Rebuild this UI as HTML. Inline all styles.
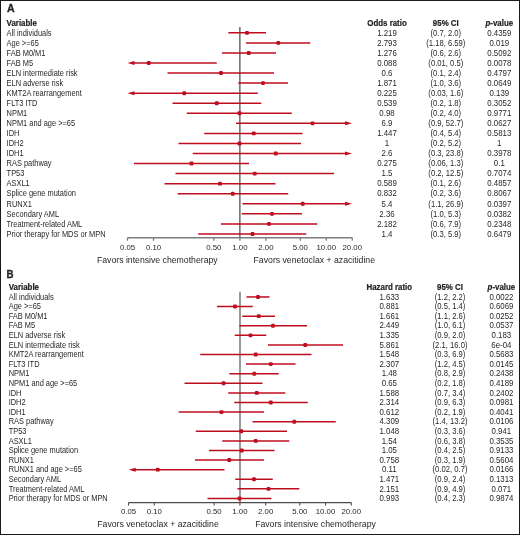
<!DOCTYPE html>
<html><head><meta charset="utf-8"><style>
html,body{margin:0;padding:0;background:#fff;}svg{display:block;will-change:transform;}
text{font-family:"Liberation Sans",sans-serif;font-size:8.4px;fill:#231f20;}
.m{text-anchor:middle;}.v{font-size:8.2px;}.h{font-weight:bold;font-size:8.6px;stroke:#231f20;stroke-width:0.22px;}
.pl{font-weight:bold;font-size:10.6px;stroke:#231f20;stroke-width:0.3px;}.t{font-size:7.8px;}.f{font-size:8.7px;}
.ci{stroke:#bf0c1f;stroke-width:1.5;}
</style></head><body>
<svg width="520" height="535" viewBox="0 0 520 535">
<rect x="0.5" y="0.5" width="519" height="534" fill="#fff" stroke="#1a1a1a" stroke-width="1"/>
<text transform="translate(7.1 12.1) scale(1.0 1)" class="pl">A</text>
<text transform="translate(6.6 25.7) scale(0.92 1)" class="h">Variable</text>
<text transform="translate(387 25.7) scale(0.92 1)" class="h m">Odds ratio</text>
<text transform="translate(445.8 25.7) scale(0.92 1)" class="h m">95% CI</text>
<text transform="translate(499.3 25.7) scale(0.92 1)" class="h m"><tspan font-style="italic">p</tspan>-value</text>
<line x1="239.85" y1="27" x2="239.85" y2="237.75" stroke="#747474" stroke-width="1.6"/>
<text transform="translate(6.6 35.60) scale(0.885 1)">All individuals</text>
<text transform="translate(387 35.60) scale(0.96 1)" class="m v">1.219</text>
<text transform="translate(445.8 35.60) scale(0.935 1)" class="m v">(0.7, 2.0)</text>
<text transform="translate(499.3 35.60) scale(0.96 1)" class="m v">0.4359</text>
<line x1="228.3" y1="32.85" x2="266" y2="32.85" class="ci"/>
<rect x="245.05" y="30.90" width="3.9" height="3.9" rx="1.2" fill="#bf0c1f"/>
<text transform="translate(6.6 45.66) scale(0.885 1)">Age &gt;=65</text>
<text transform="translate(387 45.66) scale(0.96 1)" class="m v">2.793</text>
<text transform="translate(445.8 45.66) scale(0.935 1)" class="m v">(1.18, 6.59)</text>
<text transform="translate(499.3 45.66) scale(0.96 1)" class="m v">0.019</text>
<line x1="246" y1="42.91" x2="310.25" y2="42.91" class="ci"/>
<rect x="276.30" y="40.95" width="3.9" height="3.9" rx="1.2" fill="#bf0c1f"/>
<text transform="translate(6.6 55.71) scale(0.885 1)">FAB M0/M1</text>
<text transform="translate(387 55.71) scale(0.96 1)" class="m v">1.276</text>
<text transform="translate(445.8 55.71) scale(0.935 1)" class="m v">(0.6, 2.6)</text>
<text transform="translate(499.3 55.71) scale(0.96 1)" class="m v">0.5092</text>
<line x1="222" y1="52.96" x2="276" y2="52.96" class="ci"/>
<rect x="246.80" y="51.01" width="3.9" height="3.9" rx="1.2" fill="#bf0c1f"/>
<text transform="translate(6.6 65.77) scale(0.885 1)">FAB M5</text>
<text transform="translate(387 65.77) scale(0.96 1)" class="m v">0.088</text>
<text transform="translate(445.8 65.77) scale(0.935 1)" class="m v">(0.01, 0.5)</text>
<text transform="translate(499.3 65.77) scale(0.96 1)" class="m v">0.0078</text>
<line x1="133.5" y1="63.02" x2="216.75" y2="63.02" class="ci"/>
<path d="M127.5 63.02 L134.5 61.02 L134.5 65.02 Z" fill="#bf0c1f"/>
<rect x="146.80" y="61.06" width="3.9" height="3.9" rx="1.2" fill="#bf0c1f"/>
<text transform="translate(6.6 75.82) scale(0.885 1)">ELN intermediate risk</text>
<text transform="translate(387 75.82) scale(0.96 1)" class="m v">0.6</text>
<text transform="translate(445.8 75.82) scale(0.935 1)" class="m v">(0.1, 2.4)</text>
<text transform="translate(499.3 75.82) scale(0.96 1)" class="m v">0.4797</text>
<line x1="167.5" y1="73.07" x2="274" y2="73.07" class="ci"/>
<rect x="219.05" y="71.12" width="3.9" height="3.9" rx="1.2" fill="#bf0c1f"/>
<text transform="translate(6.6 85.88) scale(0.885 1)">ELN adverse risk</text>
<text transform="translate(387 85.88) scale(0.96 1)" class="m v">1.871</text>
<text transform="translate(445.8 85.88) scale(0.935 1)" class="m v">(1.0, 3.6)</text>
<text transform="translate(499.3 85.88) scale(0.96 1)" class="m v">0.0649</text>
<line x1="238.25" y1="83.12" x2="288" y2="83.12" class="ci"/>
<rect x="261.05" y="81.17" width="3.9" height="3.9" rx="1.2" fill="#bf0c1f"/>
<text transform="translate(6.6 95.93) scale(0.885 1)">KMT2A rearrangement</text>
<text transform="translate(387 95.93) scale(0.96 1)" class="m v">0.225</text>
<text transform="translate(445.8 95.93) scale(0.935 1)" class="m v">(0.03, 1.6)</text>
<text transform="translate(499.3 95.93) scale(0.96 1)" class="m v">0.139</text>
<line x1="133.5" y1="93.18" x2="257.75" y2="93.18" class="ci"/>
<path d="M127.5 93.18 L134.5 91.18 L134.5 95.18 Z" fill="#bf0c1f"/>
<rect x="182.30" y="91.23" width="3.9" height="3.9" rx="1.2" fill="#bf0c1f"/>
<text transform="translate(6.6 105.98) scale(0.885 1)">FLT3 ITD</text>
<text transform="translate(387 105.98) scale(0.96 1)" class="m v">0.539</text>
<text transform="translate(445.8 105.98) scale(0.935 1)" class="m v">(0.2, 1.8)</text>
<text transform="translate(499.3 105.98) scale(0.96 1)" class="m v">0.3052</text>
<line x1="172.5" y1="103.23" x2="261.25" y2="103.23" class="ci"/>
<rect x="214.80" y="101.28" width="3.9" height="3.9" rx="1.2" fill="#bf0c1f"/>
<text transform="translate(6.6 116.04) scale(0.885 1)">NPM1</text>
<text transform="translate(387 116.04) scale(0.96 1)" class="m v">0.98</text>
<text transform="translate(445.8 116.04) scale(0.935 1)" class="m v">(0.2, 4.0)</text>
<text transform="translate(499.3 116.04) scale(0.96 1)" class="m v">0.9771</text>
<line x1="186.75" y1="113.29" x2="291.75" y2="113.29" class="ci"/>
<rect x="237.55" y="111.34" width="3.9" height="3.9" rx="1.2" fill="#bf0c1f"/>
<text transform="translate(6.6 126.09) scale(0.885 1)">NPM1 and age &gt;=65</text>
<text transform="translate(387 126.09) scale(0.96 1)" class="m v">6.9</text>
<text transform="translate(445.8 126.09) scale(0.935 1)" class="m v">(0.9, 52.7)</text>
<text transform="translate(499.3 126.09) scale(0.96 1)" class="m v">0.0627</text>
<line x1="236" y1="123.34" x2="346.0" y2="123.34" class="ci"/>
<path d="M352 123.34 L345.0 121.34 L345.0 125.34 Z" fill="#bf0c1f"/>
<rect x="310.55" y="121.39" width="3.9" height="3.9" rx="1.2" fill="#bf0c1f"/>
<text transform="translate(6.6 136.15) scale(0.885 1)">IDH</text>
<text transform="translate(387 136.15) scale(0.96 1)" class="m v">1.447</text>
<text transform="translate(445.8 136.15) scale(0.935 1)" class="m v">(0.4, 5.4)</text>
<text transform="translate(499.3 136.15) scale(0.96 1)" class="m v">0.5813</text>
<line x1="204.25" y1="133.40" x2="302.5" y2="133.40" class="ci"/>
<rect x="251.80" y="131.45" width="3.9" height="3.9" rx="1.2" fill="#bf0c1f"/>
<text transform="translate(6.6 146.20) scale(0.885 1)">IDH2</text>
<text transform="translate(387 146.20) scale(0.96 1)" class="m v">1</text>
<text transform="translate(445.8 146.20) scale(0.935 1)" class="m v">(0.2, 5.2)</text>
<text transform="translate(499.3 146.20) scale(0.96 1)" class="m v">1</text>
<line x1="178.5" y1="143.45" x2="301" y2="143.45" class="ci"/>
<rect x="237.55" y="141.50" width="3.9" height="3.9" rx="1.2" fill="#bf0c1f"/>
<text transform="translate(6.6 156.26) scale(0.885 1)">IDH1</text>
<text transform="translate(387 156.26) scale(0.96 1)" class="m v">2.6</text>
<text transform="translate(445.8 156.26) scale(0.935 1)" class="m v">(0.3, 23.8)</text>
<text transform="translate(499.3 156.26) scale(0.96 1)" class="m v">0.3978</text>
<line x1="192.75" y1="153.51" x2="346.0" y2="153.51" class="ci"/>
<path d="M352 153.51 L345.0 151.51 L345.0 155.51 Z" fill="#bf0c1f"/>
<rect x="273.80" y="151.56" width="3.9" height="3.9" rx="1.2" fill="#bf0c1f"/>
<text transform="translate(6.6 166.31) scale(0.885 1)">RAS pathway</text>
<text transform="translate(387 166.31) scale(0.96 1)" class="m v">0.275</text>
<text transform="translate(445.8 166.31) scale(0.935 1)" class="m v">(0.06, 1.3)</text>
<text transform="translate(499.3 166.31) scale(0.96 1)" class="m v">0.1</text>
<line x1="134" y1="163.56" x2="249" y2="163.56" class="ci"/>
<rect x="189.55" y="161.62" width="3.9" height="3.9" rx="1.2" fill="#bf0c1f"/>
<text transform="translate(6.6 176.37) scale(0.885 1)">TP53</text>
<text transform="translate(387 176.37) scale(0.96 1)" class="m v">1.5</text>
<text transform="translate(445.8 176.37) scale(0.935 1)" class="m v">(0.2, 12.5)</text>
<text transform="translate(499.3 176.37) scale(0.96 1)" class="m v">0.7074</text>
<line x1="175.5" y1="173.62" x2="334" y2="173.62" class="ci"/>
<rect x="252.80" y="171.67" width="3.9" height="3.9" rx="1.2" fill="#bf0c1f"/>
<text transform="translate(6.6 186.42) scale(0.885 1)">ASXL1</text>
<text transform="translate(387 186.42) scale(0.96 1)" class="m v">0.589</text>
<text transform="translate(445.8 186.42) scale(0.935 1)" class="m v">(0.1, 2.6)</text>
<text transform="translate(499.3 186.42) scale(0.96 1)" class="m v">0.4857</text>
<line x1="164.5" y1="183.67" x2="275.5" y2="183.67" class="ci"/>
<rect x="218.05" y="181.72" width="3.9" height="3.9" rx="1.2" fill="#bf0c1f"/>
<text transform="translate(6.6 196.48) scale(0.885 1)">Splice gene mutation</text>
<text transform="translate(387 196.48) scale(0.96 1)" class="m v">0.832</text>
<text transform="translate(445.8 196.48) scale(0.935 1)" class="m v">(0.2, 3.6)</text>
<text transform="translate(499.3 196.48) scale(0.96 1)" class="m v">0.8067</text>
<line x1="177.75" y1="193.73" x2="288.25" y2="193.73" class="ci"/>
<rect x="230.80" y="191.78" width="3.9" height="3.9" rx="1.2" fill="#bf0c1f"/>
<text transform="translate(6.6 206.53) scale(0.885 1)">RUNX1</text>
<text transform="translate(387 206.53) scale(0.96 1)" class="m v">5.4</text>
<text transform="translate(445.8 206.53) scale(0.935 1)" class="m v">(1.1, 26.9)</text>
<text transform="translate(499.3 206.53) scale(0.96 1)" class="m v">0.0397</text>
<line x1="242.5" y1="203.78" x2="346.0" y2="203.78" class="ci"/>
<path d="M352 203.78 L345.0 201.78 L345.0 205.78 Z" fill="#bf0c1f"/>
<rect x="300.80" y="201.84" width="3.9" height="3.9" rx="1.2" fill="#bf0c1f"/>
<text transform="translate(6.6 216.59) scale(0.885 1)">Secondary AML</text>
<text transform="translate(387 216.59) scale(0.96 1)" class="m v">2.36</text>
<text transform="translate(445.8 216.59) scale(0.935 1)" class="m v">(1.0, 5.3)</text>
<text transform="translate(499.3 216.59) scale(0.96 1)" class="m v">0.0382</text>
<line x1="241.75" y1="213.84" x2="302" y2="213.84" class="ci"/>
<rect x="270.05" y="211.89" width="3.9" height="3.9" rx="1.2" fill="#bf0c1f"/>
<text transform="translate(6.6 226.64) scale(0.885 1)">Treatment-related AML</text>
<text transform="translate(387 226.64) scale(0.96 1)" class="m v">2.182</text>
<text transform="translate(445.8 226.64) scale(0.935 1)" class="m v">(0.6, 7.9)</text>
<text transform="translate(499.3 226.64) scale(0.96 1)" class="m v">0.2348</text>
<line x1="221" y1="223.89" x2="317.25" y2="223.89" class="ci"/>
<rect x="267.05" y="221.94" width="3.9" height="3.9" rx="1.2" fill="#bf0c1f"/>
<text transform="translate(6.6 236.70) scale(0.885 1)">Prior therapy for MDS or MPN</text>
<text transform="translate(387 236.70) scale(0.96 1)" class="m v">1.4</text>
<text transform="translate(445.8 236.70) scale(0.935 1)" class="m v">(0.3, 5.9)</text>
<text transform="translate(499.3 236.70) scale(0.96 1)" class="m v">0.6479</text>
<line x1="198.25" y1="233.95" x2="306.25" y2="233.95" class="ci"/>
<rect x="250.55" y="232.00" width="3.9" height="3.9" rx="1.2" fill="#bf0c1f"/>
<line x1="127.5" y1="237.75" x2="352.3" y2="237.75" stroke="#7e7e7e" stroke-width="1.6"/>
<line x1="127.50" y1="237.75" x2="127.50" y2="240.75" stroke="#7e7e7e" stroke-width="1.3"/>
<text x="127.50" y="249.8" class="t m">0.05</text>
<line x1="153.51" y1="237.75" x2="153.51" y2="240.75" stroke="#7e7e7e" stroke-width="1.3"/>
<text x="153.51" y="249.8" class="t m">0.10</text>
<line x1="213.89" y1="237.75" x2="213.89" y2="240.75" stroke="#7e7e7e" stroke-width="1.3"/>
<text x="213.89" y="249.8" class="t m">0.50</text>
<line x1="239.90" y1="237.75" x2="239.90" y2="240.75" stroke="#7e7e7e" stroke-width="1.3"/>
<text x="239.90" y="249.8" class="t m">1.00</text>
<line x1="265.91" y1="237.75" x2="265.91" y2="240.75" stroke="#7e7e7e" stroke-width="1.3"/>
<text x="265.91" y="249.8" class="t m">2.00</text>
<line x1="300.29" y1="237.75" x2="300.29" y2="240.75" stroke="#7e7e7e" stroke-width="1.3"/>
<text x="300.29" y="249.8" class="t m">5.00</text>
<line x1="326.29" y1="237.75" x2="326.29" y2="240.75" stroke="#7e7e7e" stroke-width="1.3"/>
<text x="326.29" y="249.8" class="t m">10.00</text>
<line x1="352.30" y1="237.75" x2="352.30" y2="240.75" stroke="#7e7e7e" stroke-width="1.3"/>
<text x="352.30" y="249.8" class="t m">20.00</text>
<text x="157.3" y="262.5" class="f m">Favors intensive chemotherapy</text>
<text x="314.3" y="262.5" class="f m">Favors venetoclax + azacitidine</text>
<text transform="translate(6.5 278.0) scale(0.92 1)" class="pl">B</text>
<text transform="translate(8.7 289.7) scale(0.92 1)" class="h">Variable</text>
<text transform="translate(389.3 289.7) scale(0.92 1)" class="h m">Hazard ratio</text>
<text transform="translate(450 289.7) scale(0.92 1)" class="h m">95% CI</text>
<text transform="translate(501.4 289.7) scale(0.92 1)" class="h m"><tspan font-style="italic">p</tspan>-value</text>
<line x1="240.0" y1="291.8" x2="240.0" y2="502.6" stroke="#888888" stroke-width="1.7"/>
<text transform="translate(8.7 299.60) scale(0.885 1)">All individuals</text>
<text transform="translate(389.3 299.60) scale(0.96 1)" class="m v">1.633</text>
<text transform="translate(450 299.60) scale(0.935 1)" class="m v">(1.2, 2.2)</text>
<text transform="translate(501.4 299.60) scale(0.96 1)" class="m v">0.0022</text>
<line x1="246.5" y1="296.95" x2="269.5" y2="296.95" class="ci"/>
<rect x="256.05" y="295.00" width="3.9" height="3.9" rx="1.2" fill="#bf0c1f"/>
<text transform="translate(8.7 309.20) scale(0.885 1)">Age &gt;=65</text>
<text transform="translate(389.3 309.20) scale(0.96 1)" class="m v">0.881</text>
<text transform="translate(450 309.20) scale(0.935 1)" class="m v">(0.5, 1.4)</text>
<text transform="translate(501.4 309.20) scale(0.96 1)" class="m v">0.6069</text>
<line x1="217" y1="306.55" x2="252.75" y2="306.55" class="ci"/>
<rect x="233.05" y="304.60" width="3.9" height="3.9" rx="1.2" fill="#bf0c1f"/>
<text transform="translate(8.7 318.79) scale(0.885 1)">FAB M0/M1</text>
<text transform="translate(389.3 318.79) scale(0.96 1)" class="m v">1.661</text>
<text transform="translate(450 318.79) scale(0.935 1)" class="m v">(1.1, 2.6)</text>
<text transform="translate(501.4 318.79) scale(0.96 1)" class="m v">0.0252</text>
<line x1="242.25" y1="316.14" x2="275" y2="316.14" class="ci"/>
<rect x="256.80" y="314.19" width="3.9" height="3.9" rx="1.2" fill="#bf0c1f"/>
<text transform="translate(8.7 328.39) scale(0.885 1)">FAB M5</text>
<text transform="translate(389.3 328.39) scale(0.96 1)" class="m v">2.449</text>
<text transform="translate(450 328.39) scale(0.935 1)" class="m v">(1.0, 6.1)</text>
<text transform="translate(501.4 328.39) scale(0.96 1)" class="m v">0.0537</text>
<line x1="239.5" y1="325.74" x2="307" y2="325.74" class="ci"/>
<rect x="271.05" y="323.79" width="3.9" height="3.9" rx="1.2" fill="#bf0c1f"/>
<text transform="translate(8.7 337.98) scale(0.885 1)">ELN adverse risk</text>
<text transform="translate(389.3 337.98) scale(0.96 1)" class="m v">1.335</text>
<text transform="translate(450 337.98) scale(0.935 1)" class="m v">(0.9, 2.0)</text>
<text transform="translate(501.4 337.98) scale(0.96 1)" class="m v">0.183</text>
<line x1="234.75" y1="335.33" x2="266.25" y2="335.33" class="ci"/>
<rect x="248.55" y="333.38" width="3.9" height="3.9" rx="1.2" fill="#bf0c1f"/>
<text transform="translate(8.7 347.58) scale(0.885 1)">ELN intermediate risk</text>
<text transform="translate(389.3 347.58) scale(0.96 1)" class="m v">5.861</text>
<text transform="translate(450 347.58) scale(0.935 1)" class="m v">(2.1, 16.0)</text>
<text transform="translate(501.4 347.58) scale(0.96 1)" class="m v">6e-04</text>
<line x1="268" y1="344.93" x2="343" y2="344.93" class="ci"/>
<rect x="303.30" y="342.98" width="3.9" height="3.9" rx="1.2" fill="#bf0c1f"/>
<text transform="translate(8.7 357.17) scale(0.885 1)">KMT2A rearrangement</text>
<text transform="translate(389.3 357.17) scale(0.96 1)" class="m v">1.548</text>
<text transform="translate(450 357.17) scale(0.935 1)" class="m v">(0.3, 6.9)</text>
<text transform="translate(501.4 357.17) scale(0.96 1)" class="m v">0.5683</text>
<line x1="200.25" y1="354.52" x2="311.5" y2="354.52" class="ci"/>
<rect x="253.80" y="352.57" width="3.9" height="3.9" rx="1.2" fill="#bf0c1f"/>
<text transform="translate(8.7 366.77) scale(0.885 1)">FLT3 ITD</text>
<text transform="translate(389.3 366.77) scale(0.96 1)" class="m v">2.307</text>
<text transform="translate(450 366.77) scale(0.935 1)" class="m v">(1.2, 4.5)</text>
<text transform="translate(501.4 366.77) scale(0.96 1)" class="m v">0.0145</text>
<line x1="246" y1="364.12" x2="295.5" y2="364.12" class="ci"/>
<rect x="268.80" y="362.17" width="3.9" height="3.9" rx="1.2" fill="#bf0c1f"/>
<text transform="translate(8.7 376.36) scale(0.885 1)">NPM1</text>
<text transform="translate(389.3 376.36) scale(0.96 1)" class="m v">1.48</text>
<text transform="translate(450 376.36) scale(0.935 1)" class="m v">(0.8, 2.9)</text>
<text transform="translate(501.4 376.36) scale(0.96 1)" class="m v">0.2438</text>
<line x1="229.25" y1="373.71" x2="278.75" y2="373.71" class="ci"/>
<rect x="252.30" y="371.76" width="3.9" height="3.9" rx="1.2" fill="#bf0c1f"/>
<text transform="translate(8.7 385.96) scale(0.885 1)">NPM1 and age &gt;=65</text>
<text transform="translate(389.3 385.96) scale(0.96 1)" class="m v">0.65</text>
<text transform="translate(450 385.96) scale(0.935 1)" class="m v">(0.2, 1.8)</text>
<text transform="translate(501.4 385.96) scale(0.96 1)" class="m v">0.4189</text>
<line x1="184.5" y1="383.31" x2="262.5" y2="383.31" class="ci"/>
<rect x="221.55" y="381.36" width="3.9" height="3.9" rx="1.2" fill="#bf0c1f"/>
<text transform="translate(8.7 395.55) scale(0.885 1)">IDH</text>
<text transform="translate(389.3 395.55) scale(0.96 1)" class="m v">1.588</text>
<text transform="translate(450 395.55) scale(0.935 1)" class="m v">(0.7, 3.4)</text>
<text transform="translate(501.4 395.55) scale(0.96 1)" class="m v">0.2402</text>
<line x1="228.25" y1="392.90" x2="285.25" y2="392.90" class="ci"/>
<rect x="254.80" y="390.95" width="3.9" height="3.9" rx="1.2" fill="#bf0c1f"/>
<text transform="translate(8.7 405.15) scale(0.885 1)">IDH2</text>
<text transform="translate(389.3 405.15) scale(0.96 1)" class="m v">2.314</text>
<text transform="translate(450 405.15) scale(0.935 1)" class="m v">(0.9, 6.3)</text>
<text transform="translate(501.4 405.15) scale(0.96 1)" class="m v">0.0981</text>
<line x1="234.25" y1="402.50" x2="307.75" y2="402.50" class="ci"/>
<rect x="268.80" y="400.55" width="3.9" height="3.9" rx="1.2" fill="#bf0c1f"/>
<text transform="translate(8.7 414.74) scale(0.885 1)">IDH1</text>
<text transform="translate(389.3 414.74) scale(0.96 1)" class="m v">0.612</text>
<text transform="translate(450 414.74) scale(0.935 1)" class="m v">(0.2, 1.9)</text>
<text transform="translate(501.4 414.74) scale(0.96 1)" class="m v">0.4041</text>
<line x1="178.75" y1="412.09" x2="264" y2="412.09" class="ci"/>
<rect x="219.55" y="410.14" width="3.9" height="3.9" rx="1.2" fill="#bf0c1f"/>
<text transform="translate(8.7 424.34) scale(0.885 1)">RAS pathway</text>
<text transform="translate(389.3 424.34) scale(0.96 1)" class="m v">4.309</text>
<text transform="translate(450 424.34) scale(0.935 1)" class="m v">(1.4, 13.2)</text>
<text transform="translate(501.4 424.34) scale(0.96 1)" class="m v">0.0106</text>
<line x1="252.5" y1="421.69" x2="335.75" y2="421.69" class="ci"/>
<rect x="292.30" y="419.74" width="3.9" height="3.9" rx="1.2" fill="#bf0c1f"/>
<text transform="translate(8.7 433.93) scale(0.885 1)">TP53</text>
<text transform="translate(389.3 433.93) scale(0.96 1)" class="m v">1.048</text>
<text transform="translate(450 433.93) scale(0.935 1)" class="m v">(0.3, 3.6)</text>
<text transform="translate(501.4 433.93) scale(0.96 1)" class="m v">0.941</text>
<line x1="195.75" y1="431.28" x2="287" y2="431.28" class="ci"/>
<rect x="239.30" y="429.33" width="3.9" height="3.9" rx="1.2" fill="#bf0c1f"/>
<text transform="translate(8.7 443.53) scale(0.885 1)">ASXL1</text>
<text transform="translate(389.3 443.53) scale(0.96 1)" class="m v">1.54</text>
<text transform="translate(450 443.53) scale(0.935 1)" class="m v">(0.6, 3.8)</text>
<text transform="translate(501.4 443.53) scale(0.96 1)" class="m v">0.3535</text>
<line x1="222.25" y1="440.88" x2="289.25" y2="440.88" class="ci"/>
<rect x="253.80" y="438.93" width="3.9" height="3.9" rx="1.2" fill="#bf0c1f"/>
<text transform="translate(8.7 453.12) scale(0.885 1)">Splice gene mutation</text>
<text transform="translate(389.3 453.12) scale(0.96 1)" class="m v">1.05</text>
<text transform="translate(450 453.12) scale(0.935 1)" class="m v">(0.4, 2.5)</text>
<text transform="translate(501.4 453.12) scale(0.96 1)" class="m v">0.9133</text>
<line x1="209" y1="450.47" x2="274.5" y2="450.47" class="ci"/>
<rect x="239.80" y="448.52" width="3.9" height="3.9" rx="1.2" fill="#bf0c1f"/>
<text transform="translate(8.7 462.72) scale(0.885 1)">RUNX1</text>
<text transform="translate(389.3 462.72) scale(0.96 1)" class="m v">0.758</text>
<text transform="translate(450 462.72) scale(0.935 1)" class="m v">(0.3, 1.9)</text>
<text transform="translate(501.4 462.72) scale(0.96 1)" class="m v">0.5604</text>
<line x1="195" y1="460.06" x2="264" y2="460.06" class="ci"/>
<rect x="227.30" y="458.12" width="3.9" height="3.9" rx="1.2" fill="#bf0c1f"/>
<text transform="translate(8.7 472.31) scale(0.885 1)">RUNX1 and age &gt;=65</text>
<text transform="translate(389.3 472.31) scale(0.96 1)" class="m v">0.11</text>
<text transform="translate(450 472.31) scale(0.935 1)" class="m v">(0.02, 0.7)</text>
<text transform="translate(501.4 472.31) scale(0.96 1)" class="m v">0.0166</text>
<line x1="134.75" y1="469.66" x2="224.5" y2="469.66" class="ci"/>
<path d="M128.75 469.66 L135.75 467.66 L135.75 471.66 Z" fill="#bf0c1f"/>
<rect x="155.80" y="467.71" width="3.9" height="3.9" rx="1.2" fill="#bf0c1f"/>
<text transform="translate(8.7 481.91) scale(0.885 1)">Secondary AML</text>
<text transform="translate(389.3 481.91) scale(0.96 1)" class="m v">1.471</text>
<text transform="translate(450 481.91) scale(0.935 1)" class="m v">(0.9, 2.4)</text>
<text transform="translate(501.4 481.91) scale(0.96 1)" class="m v">0.1313</text>
<line x1="235.25" y1="479.25" x2="272.75" y2="479.25" class="ci"/>
<rect x="252.05" y="477.31" width="3.9" height="3.9" rx="1.2" fill="#bf0c1f"/>
<text transform="translate(8.7 491.50) scale(0.885 1)">Treatment-related AML</text>
<text transform="translate(389.3 491.50) scale(0.96 1)" class="m v">2.151</text>
<text transform="translate(450 491.50) scale(0.935 1)" class="m v">(0.9, 4.9)</text>
<text transform="translate(501.4 491.50) scale(0.96 1)" class="m v">0.071</text>
<line x1="237.5" y1="488.85" x2="299.25" y2="488.85" class="ci"/>
<rect x="266.55" y="486.90" width="3.9" height="3.9" rx="1.2" fill="#bf0c1f"/>
<text transform="translate(8.7 501.10) scale(0.885 1)">Prior therapy for MDS or MPN</text>
<text transform="translate(389.3 501.10) scale(0.96 1)" class="m v">0.993</text>
<text transform="translate(450 501.10) scale(0.935 1)" class="m v">(0.4, 2.3)</text>
<text transform="translate(501.4 501.10) scale(0.96 1)" class="m v">0.9874</text>
<line x1="207.5" y1="498.44" x2="271.5" y2="498.44" class="ci"/>
<rect x="237.55" y="496.50" width="3.9" height="3.9" rx="1.2" fill="#bf0c1f"/>
<line x1="128.5" y1="502.6" x2="351.3" y2="502.6" stroke="#4d4d4d" stroke-width="1.2"/>
<line x1="128.50" y1="502.6" x2="128.50" y2="505.6" stroke="#4d4d4d" stroke-width="1.1"/>
<text x="128.50" y="513.9" class="t m">0.05</text>
<line x1="154.28" y1="502.6" x2="154.28" y2="505.6" stroke="#4d4d4d" stroke-width="1.1"/>
<text x="154.28" y="513.9" class="t m">0.10</text>
<line x1="214.12" y1="502.6" x2="214.12" y2="505.6" stroke="#4d4d4d" stroke-width="1.1"/>
<text x="214.12" y="513.9" class="t m">0.50</text>
<line x1="239.90" y1="502.6" x2="239.90" y2="505.6" stroke="#4d4d4d" stroke-width="1.1"/>
<text x="239.90" y="513.9" class="t m">1.00</text>
<line x1="265.68" y1="502.6" x2="265.68" y2="505.6" stroke="#4d4d4d" stroke-width="1.1"/>
<text x="265.68" y="513.9" class="t m">2.00</text>
<line x1="299.75" y1="502.6" x2="299.75" y2="505.6" stroke="#4d4d4d" stroke-width="1.1"/>
<text x="299.75" y="513.9" class="t m">5.00</text>
<line x1="325.52" y1="502.6" x2="325.52" y2="505.6" stroke="#4d4d4d" stroke-width="1.1"/>
<text x="325.52" y="513.9" class="t m">10.00</text>
<line x1="351.30" y1="502.6" x2="351.30" y2="505.6" stroke="#4d4d4d" stroke-width="1.1"/>
<text x="351.30" y="513.9" class="t m">20.00</text>
<text x="158" y="527" class="f m">Favors venetoclax + azacitidine</text>
<text x="315.5" y="527" class="f m">Favors intensive chemotherapy</text>
</svg></body></html>
